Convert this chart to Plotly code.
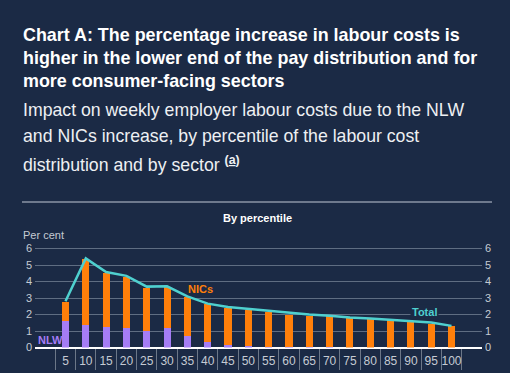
import plotly.graph_objects as go

percentiles = ["5", "10", "15", "20", "25", "30", "35", "40", "45", "50",
               "55", "60", "65", "70", "75", "80", "85", "90", "95", "100"]
nlw = [1.6, 1.37, 1.25, 1.17, 1.0, 1.2, 0.72, 0.31, 0.18, 0.08,
       0.03, 0.02, 0.01, 0.01, 0.0, 0.0, 0.0, 0.0, 0.0, 0.0]
nics = [1.15, 4.0, 3.25, 3.09, 2.63, 2.45, 2.35, 2.33, 2.22, 2.17,
        2.10, 1.98, 1.92, 1.88, 1.80, 1.74, 1.68, 1.58, 1.45, 1.33]
total = [2.8, 5.4, 4.57, 4.34, 3.69, 3.71, 3.1, 2.66, 2.46, 2.34,
         2.21, 2.11, 2.0, 1.93, 1.82, 1.76, 1.68, 1.62, 1.52, 1.31]
y_ticks = [0, 1, 2, 3, 4, 5, 6]

BG = "#1b2a45"
ORANGE = "#ff7f0a"
PURPLE = "#a57df5"
TEAL = "#4fd0cf"
GRID = "#5f6d82"
TXT = "#c5cad3"
FONT = "Liberation Sans, Arial, sans-serif"

W, H = 510, 373

fig = go.Figure()
fig.add_trace(go.Bar(x=percentiles, y=nlw, marker_color=PURPLE, width=0.35,
                     marker_line_width=0, name="NLW"))
fig.add_trace(go.Bar(x=percentiles, y=nics, marker_color=ORANGE, width=0.35,
                     marker_line_width=0, name="NICs"))
fig.add_trace(go.Scatter(x=percentiles, y=total, mode="lines",
                         line=dict(color=TEAL, width=2.5), name="Total"))
fig.add_trace(go.Scatter(x=percentiles, y=total, mode="lines", yaxis="y2",
                         line=dict(width=0), hoverinfo="skip", showlegend=False))

def px_x(p):
    return p / W

def px_y(p):
    return (H - p) / H

ymin, ymax = 0, 6.1
y0px, y6px = 347.5, 248.5
unit = (y0px - y6px) / 6
dom_bottom = px_y(y0px)
dom_top = px_y(y6px - (ymax - 6) * unit)

fig.update_layout(
    width=W, height=H,
    margin=dict(l=0, r=0, t=0, b=0, autoexpand=False),
    paper_bgcolor=BG, plot_bgcolor=BG,
    barmode="stack", bargap=0.6, showlegend=False,
    font=dict(family=FONT, color=TXT, size=11),
    xaxis=dict(
        domain=[px_x(35), px_x(482)],
        range=[-1.5, 20.5], type="category",
        showgrid=False, ticks="outside", tickson="boundaries",
        ticklen=21, tickcolor="#6c7788", tickwidth=1,
        tickangle=0, automargin=False,
        tickfont=dict(size=12, color=TXT, family=FONT),
        ticklabelstandoff=4,
        showline=False, zeroline=False,
    ),
    yaxis=dict(
        domain=[dom_bottom, dom_top], range=[ymin, ymax],
        tickvals=y_ticks, ticktext=[str(v) for v in y_ticks],
        showgrid=True, gridcolor=GRID, gridwidth=1, automargin=False,
        zeroline=True, zerolinecolor="#ffffff", zerolinewidth=2,
        tickfont=dict(size=11, color=TXT), ticks="", ticklabelstandoff=2,
    ),
    yaxis2=dict(
        overlaying="y", side="right", matches="y", automargin=False,
        tickvals=y_ticks, ticktext=[str(v) for v in y_ticks],
        showgrid=False, zeroline=False,
        tickfont=dict(size=11, color=TXT), ticks="", ticklabelstandoff=2,
    ),
)

title_lines = [
    "Chart A: The percentage increase in labour costs is",
    "higher in the lower end of the pay distribution and for",
    "more consumer-facing sectors",
]
title_y = [35, 58, 81]
for t, yy in zip(title_lines, title_y):
    fig.add_annotation(text="<b>" + t + "</b>", x=px_x(21), y=px_y(yy),
                       xref="paper", yref="paper", xanchor="left", yanchor="middle",
                       showarrow=False, font=dict(size=17.9, color="#ffffff", family=FONT))

sub_lines = [
    "Impact on weekly employer labour costs due to the NLW",
    "and NICs increase, by percentile of the labour cost",
    "distribution and by sector <sup><b>(<u>a</u>)</b></sup>",
]
sub_y = [110, 136, 164]
for t, yy in zip(sub_lines, sub_y):
    fig.add_annotation(text=t, x=px_x(21), y=px_y(yy),
                       xref="paper", yref="paper", xanchor="left", yanchor="middle",
                       showarrow=False, font=dict(size=17.7, color="#eef0f3", family=FONT))

fig.add_shape(type="line", xref="paper", yref="paper",
              x0=px_x(22), x1=px_x(492), y0=px_y(202), y1=px_y(202),
              line=dict(color="#8b95a6", width=1.5))

fig.add_annotation(text="<b>By percentile</b>", x=px_x(257), y=px_y(218),
                   xref="paper", yref="paper", xanchor="center", yanchor="middle",
                   showarrow=False, font=dict(size=11, color="#ffffff", family=FONT))
fig.add_annotation(text="Per cent", x=px_x(21), y=px_y(235),
                   xref="paper", yref="paper", xanchor="left", yanchor="middle",
                   showarrow=False, font=dict(size=11, color=TXT, family=FONT))

fig.add_annotation(text="<b>NLW</b>", x=px_x(36), y=px_y(340),
                   xref="paper", yref="paper", xanchor="left", yanchor="middle",
                   showarrow=False, font=dict(size=11, color=PURPLE, family=FONT))
fig.add_annotation(text="<b>NICs</b>", x=px_x(186), y=px_y(289),
                   xref="paper", yref="paper", xanchor="left", yanchor="middle",
                   showarrow=False, font=dict(size=11, color=ORANGE, family=FONT))
fig.add_annotation(text="<b>Total</b>", x=px_x(424), y=px_y(312),
                   xref="paper", yref="paper", xanchor="center", yanchor="middle",
                   showarrow=False, bgcolor=BG, borderpad=1,
                   font=dict(size=11, color=TEAL, family=FONT))

fig.write_html(
    "out.html",
    config={"displayModeBar": False},
    post_script="document.body.style.margin='0';document.body.style.background='%s';" % BG,
)
